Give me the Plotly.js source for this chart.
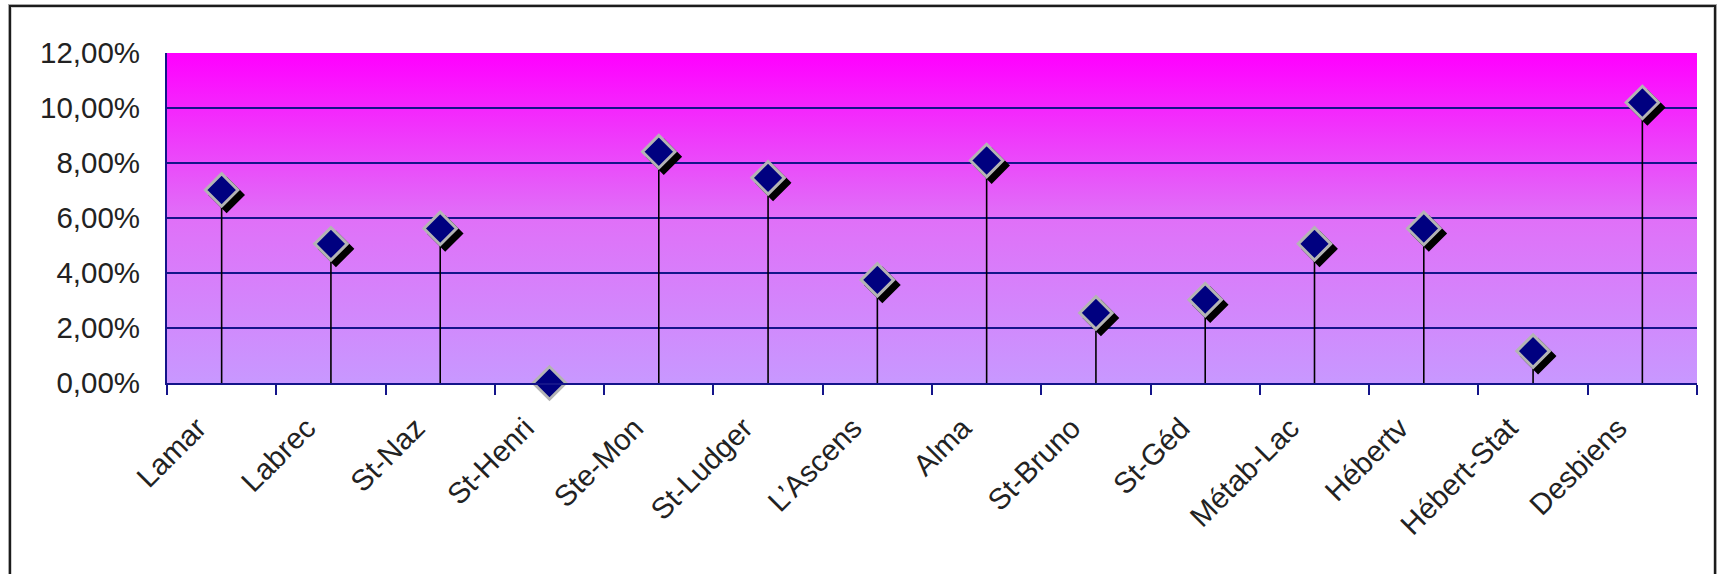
<!DOCTYPE html>
<html>
<head>
<meta charset="utf-8">
<script src="https://cdn.plot.ly/plotly-3.0.1.min.js"></script>
<style>
  html, body { margin: 0; padding: 0; background: #ffffff; overflow: hidden; }
  #wrap { position: relative; width: 1721px; height: 574px; }
  #chart { position: absolute; left: 0; top: 0; width: 1721px; height: 574px; }
  #frame {
    position: absolute; left: 9px; top: 5px; width: 1703px; height: 640px;
    border: 2px solid #1c1c1c; box-shadow: 0 0 0 1px #a8a8a8, inset 0 0 0 1px #d0d0d0;
    pointer-events: none;
  }
</style>
</head>
<body>
<div id="wrap">
  <div id="chart"></div>
  <div id="frame"></div>
</div>
<script>
// ---- data ----
const categories = ["Lamar", "Labrec", "St-Naz", "St-Henri", "Ste-Mon", "St-Ludger", "L\u2019Ascens",
                    "Alma", "St-Bruno", "St-Géd", "Métab-Lac", "Hébertv", "Hébert-Stat", "Desbiens"];
const values = [0.0702, 0.0506, 0.0562, 0.0000, 0.0841, 0.0746, 0.0375,
                0.0809, 0.0255, 0.0303, 0.0506, 0.0562, 0.0116, 0.1020];
const yTickValues = [0, 0.02, 0.04, 0.06, 0.08, 0.10, 0.12];

// ---- styling ----
const NAVY = "#14148a";
const FONT = "Liberation Sans, Arial, Helvetica, sans-serif";
const yMax = 0.12;
const n = categories.length;

// shadow offset (pixels) converted into axis-range shifts
const plotW = 1721 - 167 - 24, plotH = 574 - 53 - 191;
const shadowPx = 5;
const dx = shadowPx * n / plotW;
const dy = shadowPx * yMax / plotH;

// vertical gradient background
const svg = '<svg xmlns="http://www.w3.org/2000/svg" width="100" height="100" preserveAspectRatio="none">' +
  '<defs><linearGradient id="g" x1="0" y1="0" x2="0" y2="1">' +
  '<stop offset="0" stop-color="#ff00ff"/>' +
  '<stop offset="0.5" stop-color="#e070f8"/>' +
  '<stop offset="1" stop-color="#c898ff"/>' +
  '</linearGradient></defs><rect width="100" height="100" fill="url(#g)"/></svg>';
const bgSrc = "data:image/svg+xml;charset=utf-8," + encodeURIComponent(svg);

const stems = {
  type: "scatter", mode: "markers", x: categories, y: values,
  xaxis: "x", yaxis: "y",
  marker: { size: 1, opacity: 0 },
  error_y: { type: "data", symmetric: false, array: values.map(() => 0), arrayminus: values,
             width: 0, thickness: 1.6, color: "#000000" },
  hoverinfo: "skip", showlegend: false
};
const shadow = {
  type: "scatter", mode: "markers", x: categories, y: values,
  xaxis: "x2", yaxis: "y2", cliponaxis: false,
  marker: { symbol: "diamond", size: 25, color: "#000000", line: { color: "#000000", width: 3 } },
  hoverinfo: "skip", showlegend: false
};
const points = {
  type: "scatter", mode: "markers", x: categories, y: values,
  xaxis: "x3", yaxis: "y3", cliponaxis: false,
  marker: { symbol: "diamond", size: 25, color: "#000080", line: { color: "#b4b4b4", width: 3 } },
  hoverinfo: "skip", showlegend: false
};

const boundaries = categories.map((c, i) => i - 0.5).concat([n - 0.5]);

const layout = {
  width: 1721, height: 574,
  margin: { l: 167, r: 24, t: 53, b: 191 },
  paper_bgcolor: "#ffffff", plot_bgcolor: "#ffffff",
  separators: ",.",
  showlegend: false,
  font: { family: FONT, color: "#222222", size: 29.5 },
  images: [{ source: bgSrc, xref: "paper", yref: "paper", x: 0, y: 1, sizex: 1, sizey: 1,
             sizing: "stretch", xanchor: "left", yanchor: "top", layer: "below" }],
  xaxis: {
    type: "category", categoryorder: "array", categoryarray: categories,
    range: [-0.5, n - 0.5], tickson: "boundaries",
    ticks: "outside", ticklen: 10, tickwidth: 2, tickcolor: NAVY,
    showline: true, linecolor: NAVY, linewidth: 2,
    showgrid: false, zeroline: false, tickangle: -45,
    tickfont: { family: FONT, size: 29.5, color: "#222222" },
    ticklabelstandoff: 14, ticklabelshift: -24, fixedrange: true
  },
  yaxis: {
    range: [0, yMax], tickvals: yTickValues, tickformat: ".2%",
    showgrid: true, gridcolor: NAVY, gridwidth: 2,
    showline: true, linecolor: NAVY, linewidth: 2, zeroline: false,
    ticks: "", ticklabelstandoff: 19,
    tickfont: { family: FONT, size: 29.5, color: "#222222" }, fixedrange: true
  },
  xaxis2: { type: "category", categoryorder: "array", categoryarray: categories,
            overlaying: "x", anchor: "y2", visible: false, range: [-0.5 - dx, n - 0.5 - dx], fixedrange: true },
  yaxis2: { overlaying: "y", anchor: "x2", visible: false, range: [dy, yMax + dy], fixedrange: true },
  xaxis3: { type: "category", categoryorder: "array", categoryarray: categories,
            overlaying: "x", anchor: "y3", visible: false, range: [-0.5, n - 0.5], fixedrange: true },
  yaxis3: { overlaying: "y", anchor: "x3", visible: false, range: [0, yMax], fixedrange: true },
  xaxis4: { overlaying: "x", anchor: "y", range: [-0.5, n - 0.5], tickmode: "array", tickvals: boundaries,
            ticks: "inside", ticklen: 9, tickwidth: 2, tickcolor: NAVY, showticklabels: false,
            showgrid: false, zeroline: false, showline: false, fixedrange: true }
};

Plotly.newPlot("chart", [stems, shadow, points], layout, { staticPlot: true, displayModeBar: false });
</script>
</body>
</html>
